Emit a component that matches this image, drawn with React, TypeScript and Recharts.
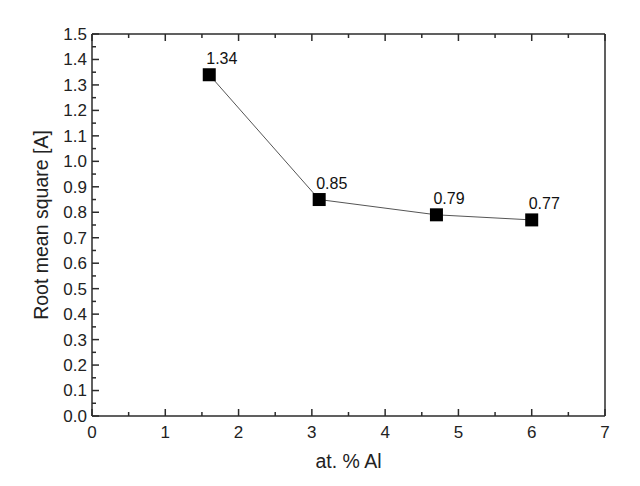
import React from 'react';
import { LineChart, Line, XAxis, YAxis, LabelList } from 'recharts';

// at. % Al vs RMS
const atPercentAl = [1.6, 3.1, 4.7, 6.0];
const rmsValues = [1.34, 0.85, 0.79, 0.77];

const xMajorTicks = [0, 1, 2, 3, 4, 5, 6, 7];
const yMajorTicks = [0, 0.1, 0.2, 0.3, 0.4, 0.5, 0.6, 0.7, 0.8, 0.9, 1.0, 1.1, 1.2, 1.3, 1.4, 1.5];

const midpoints = (arr: number[]) => arr.slice(1).map((v, i) => (v + arr[i]) / 2);
const xTicks = [...xMajorTicks, ...midpoints(xMajorTicks)].sort((a, b) => a - b);
const yTicks = [...yMajorTicks, ...midpoints(yMajorTicks)].sort((a, b) => a - b);

const data = atPercentAl.map((x, i) => ({ x, rms: rmsValues[i] }));

const FONT = '"Liberation Sans", Arial, sans-serif';
const AXIS = '#2b2b2b';
const MAJOR = 7;
const MINOR = 4;

const isMajor = (v: number, majors: number[]) => majors.some((m) => Math.abs(m - v) < 1e-6);

const BottomTick = (props: any) => {
  const { x, y, payload } = props;
  const major = isMajor(payload.value, xMajorTicks);
  return (
    <g>
      <line x1={x} x2={x} y1={y} y2={y - (major ? MAJOR : MINOR)} stroke={AXIS} strokeWidth={1.5} />
      {major && (
        <text x={x} y={y + 22} textAnchor="middle" fontSize={17} fontFamily={FONT} fill="#222">
          {payload.value}
        </text>
      )}
    </g>
  );
};

const TopTick = (props: any) => {
  const { x, y, payload } = props;
  const major = isMajor(payload.value, xMajorTicks);
  return <line x1={x} x2={x} y1={y} y2={y + (major ? MAJOR : MINOR)} stroke={AXIS} strokeWidth={1.5} />;
};

const LeftTick = (props: any) => {
  const { x, y, payload } = props;
  const major = isMajor(payload.value, yMajorTicks);
  return (
    <g>
      <line x1={x} x2={x + (major ? MAJOR : MINOR)} y1={y} y2={y} stroke={AXIS} strokeWidth={1.5} />
      {major && (
        <text x={x - 5} y={y} dy="0.35em" textAnchor="end" fontSize={17} fontFamily={FONT} fill="#222">
          {payload.value.toFixed(1)}
        </text>
      )}
    </g>
  );
};

const RightTick = (props: any) => {
  const { x, y, payload } = props;
  const major = isMajor(payload.value, yMajorTicks);
  return <line x1={x} x2={x - (major ? MAJOR : MINOR)} y1={y} y2={y} stroke={AXIS} strokeWidth={1.5} />;
};

const SquareDot = (props: any) => {
  const { cx, cy, index } = props;
  return <rect key={`dot-${index}`} x={cx - 6.5} y={cy - 6.5} width={13} height={13} fill="#000" />;
};

const ValueLabel = (props: any) => {
  const { x, y, value } = props;
  return (
    <text x={x - 3} y={y - 11} fontSize={16} fontFamily={FONT} fill="#111">
      {Number(value).toFixed(2)}
    </text>
  );
};

const axisLine = { stroke: AXIS, strokeWidth: 1.5 };

export default function App() {
  return (
    <div style={{ position: 'absolute', left: 0, top: 0, background: '#fff' }}>
      <LineChart width={640} height={486} data={data} margin={{ top: 33, right: 34, bottom: 0, left: 0 }}>
        <XAxis
          type="number"
          dataKey="x"
          domain={[0, 7]}
          ticks={xTicks}
          interval={0}
          height={70}
          tickSize={0}
          tickMargin={0}
          tickLine={false}
          axisLine={axisLine}
          tick={<BottomTick />}
          label={{ value: 'at. % Al', position: 'insideBottom', offset: 18, fontSize: 19.5, fontFamily: FONT, fill: '#222' }}
        />
        <XAxis
          xAxisId="top"
          orientation="top"
          type="number"
          dataKey="x"
          domain={[0, 7]}
          ticks={xTicks}
          interval={0}
          height={1}
          tickSize={0}
          tickMargin={0}
          tickLine={false}
          axisLine={axisLine}
          tick={<TopTick />}
        />
        <YAxis
          type="number"
          domain={[0, 1.5]}
          ticks={yTicks}
          interval={0}
          width={92}
          tickSize={0}
          tickMargin={0}
          tickLine={false}
          axisLine={axisLine}
          tick={<LeftTick />}
          label={{
            value: 'Root mean square [A]',
            angle: -90,
            position: 'insideLeft',
            offset: 41,
            fontSize: 19.5,
            fontFamily: FONT,
            fill: '#222',
            style: { textAnchor: 'middle' },
          }}
        />
        <YAxis
          yAxisId="right"
          orientation="right"
          type="number"
          domain={[0, 1.5]}
          ticks={yTicks}
          interval={0}
          width={1}
          tickSize={0}
          tickMargin={0}
          tickLine={false}
          axisLine={axisLine}
          tick={<RightTick />}
        />
        <Line
          dataKey="rms"
          stroke="#555"
          strokeWidth={1}
          dot={SquareDot}
          activeDot={false}
          isAnimationActive={false}
        >
          <LabelList dataKey="rms" content={ValueLabel} />
        </Line>
      </LineChart>
    </div>
  );
}
